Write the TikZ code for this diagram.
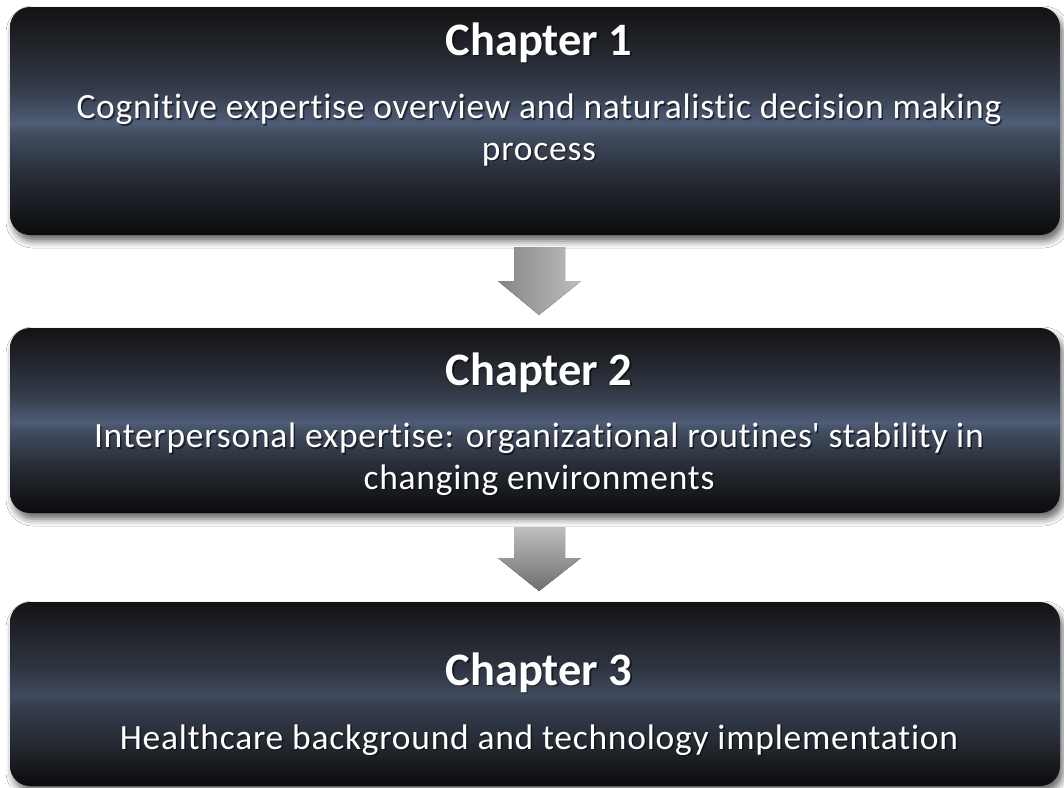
\documentclass[tikz,border=0pt]{standalone}
\usepackage{fontspec}
\setmainfont{Carlito}[Ligatures={NoCommon}]
\newfontfamily\bodyfont{Carlito}[Ligatures={NoCommon}, LetterSpace=2.1]
\usetikzlibrary{shadows.blur}

\definecolor{bxtop}{HTML}{131313}
\definecolor{bxtophi}{HTML}{22252C}
\definecolor{bxhi}{HTML}{343C4A}
\definecolor{bxmid}{HTML}{4E5C76}
\definecolor{bxmidlo}{HTML}{414C60}
\definecolor{bxlo}{HTML}{252A33}
\definecolor{bxbot}{HTML}{0B0B0B}
\definecolor{bymid}{HTML}{3F4A5D}
\definecolor{byhi}{HTML}{2E3542}
\definecolor{bymidlo}{HTML}{363F4F}
\definecolor{arlight}{HTML}{BEBEBE}
\definecolor{ardark}{HTML}{858585}
\definecolor{ardarker}{HTML}{6E6E6E}

\pgfdeclareverticalshading{boxshadeA}{100bp}{color(0bp)=(bxbot); color(25bp)=(bxbot); color(37bp)=(bxlo); color(47bp)=(bxmidlo); color(49.5bp)=(bxmid); color(57bp)=(bxhi); color(66bp)=(bxtophi); color(75bp)=(bxtop); color(100bp)=(bxtop)}
\pgfdeclareverticalshading{boxshadeB}{100bp}{color(0bp)=(bxbot); color(25bp)=(bxbot); color(37bp)=(bxlo); color(47bp)=(bymidlo); color(49.5bp)=(bymid); color(57bp)=(byhi); color(66bp)=(bxtophi); color(75bp)=(bxtop); color(100bp)=(bxtop)}

\tikzset{
  chapbox/.style={rectangle, rounded corners=20pt, minimum width=1050pt,
    inner sep=0pt, draw=none, shading=boxshadeA,
    blur shadow={shadow xshift=3pt, shadow yshift=-6pt, shadow blur radius=7pt, shadow opacity=60}},
  titletext/.style={text=white, inner sep=0pt, anchor=base,
    font=\fontsize{46.5}{50}\selectfont\bfseries},
  bodytext/.style={text=white, inner sep=0pt, anchor=base, align=center,
    font=\fontsize{35.5}{41.5}\selectfont\bodyfont},
  shadowtext/.style={text=black, opacity=0.55},
}

\newcommand{\shadowed}[4]{%
  \node[#1, shadowtext] at ([xshift=1.5pt,yshift=-1.5pt]#2) {#4};
  \node[#1] (#3) at (#2) {#4};
}

\begin{document}
\begin{tikzpicture}[x=1pt,y=-1pt]
\useasboundingbox (0,0) rectangle (1064,787);
\fill[white] (0,0) rectangle (1064,787);

% boxes
\node[chapbox, minimum height=228pt] (b1) at (535,121) {};
\node[chapbox, minimum height=185pt] (b2) at (535,420.5) {};
\node[chapbox, minimum height=184pt, shading=boxshadeB] (b3) at (535,694) {};

% arrows between boxes
\fill[left color=ardark, right color=arlight]
  (514,247) -- (565,247) -- (565,281) -- (581,281) -- (539,315) -- (498,281) -- (514,281) -- cycle;
\fill[top color=arlight, bottom color=ardarker]
  (514,527) -- (565,527) -- (565,558) -- (581,558) -- (539,591) -- (498,558) -- (514,558) -- cycle;

% texts
\shadowed{titletext}{539,55}{t1}{Chapter 1}
\shadowed{bodytext}{539,160}{d1}{Cognitive expertise overview and naturalistic decision making\\process}

\shadowed{titletext}{539,385}{t2}{Chapter 2}
\shadowed{bodytext}{539,489}{d2}{Interpersonal expertise: organizational routines\textquotesingle{} stability in\\changing environments}

\shadowed{titletext}{539,685}{t3}{Chapter 3}
\shadowed{bodytext}{539,749}{d3}{Healthcare background and technology implementation}
\end{tikzpicture}
\end{document}
